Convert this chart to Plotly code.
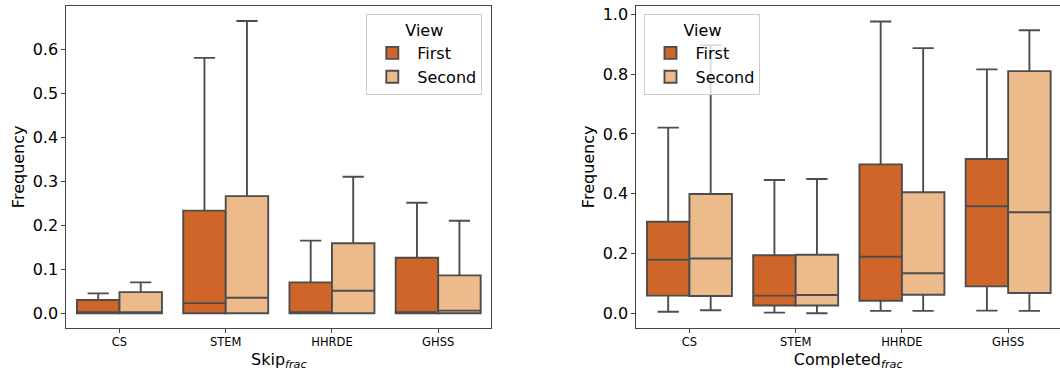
import plotly.graph_objects as go

# Categories and views
categories = ["CS", "STEM", "HHRDE", "GHSS"]
views = ["First", "Second"]

# Skip fraction: box statistics per view
skip_first_low = [0.0, 0.0, 0.0, 0.0]
skip_first_q1 = [0.0, 0.0, 0.0, 0.0]
skip_first_med = [0.0, 0.023, 0.0, 0.0]
skip_first_q3 = [0.030, 0.233, 0.070, 0.126]
skip_first_high = [0.045, 0.580, 0.165, 0.251]

skip_second_low = [0.0, 0.0, 0.0, 0.0]
skip_second_q1 = [0.0, 0.0, 0.0, 0.0]
skip_second_med = [0.0, 0.035, 0.051, 0.006]
skip_second_q3 = [0.048, 0.266, 0.159, 0.086]
skip_second_high = [0.070, 0.664, 0.310, 0.210]

# Completed fraction: box statistics per view
comp_first_low = [0.005, 0.002, 0.008, 0.009]
comp_first_q1 = [0.059, 0.026, 0.042, 0.090]
comp_first_med = [0.179, 0.059, 0.189, 0.358]
comp_first_q3 = [0.306, 0.194, 0.498, 0.516]
comp_first_high = [0.621, 0.446, 0.976, 0.816]

comp_second_low = [0.010, 0.0, 0.008, 0.008]
comp_second_q1 = [0.058, 0.026, 0.062, 0.068]
comp_second_med = [0.183, 0.061, 0.134, 0.338]
comp_second_q3 = [0.399, 0.196, 0.405, 0.810]
comp_second_high = [0.897, 0.449, 0.887, 0.947]

colors = {"First": "#cf6529", "Second": "#edba8b"}
edge = "#4d4d4d"
font_family = "DejaVu Sans"

fig = go.Figure()

panels = [
    ("x", "y", "legend", {
        "First": (skip_first_low, skip_first_q1, skip_first_med, skip_first_q3, skip_first_high),
        "Second": (skip_second_low, skip_second_q1, skip_second_med, skip_second_q3, skip_second_high),
    }),
    ("x2", "y2", "legend2", {
        "First": (comp_first_low, comp_first_q1, comp_first_med, comp_first_q3, comp_first_high),
        "Second": (comp_second_low, comp_second_q1, comp_second_med, comp_second_q3, comp_second_high),
    }),
]

for xa, ya, leg, stats in panels:
    for view in views:
        low, q1, med, q3, high = stats[view]
        fig.add_trace(go.Box(
            x=categories,
            lowerfence=low, q1=q1, median=med, q3=q3, upperfence=high,
            name=view,
            xaxis=xa, yaxis=ya,
            legend=leg,
            offsetgroup=view,
            fillcolor=colors[view],
            line=dict(color=edge, width=1.9),
            whiskerwidth=0.5,
            boxpoints=False,
        ))

axis_common = dict(
    showline=True, linecolor="#444444", linewidth=1, mirror=True,
    ticks="outside", ticklen=4, tickcolor="#444444",
    showgrid=False, zeroline=False, automargin=False,
)

legend_common = dict(
    title=dict(text="View", side="top center", font=dict(size=16)),
    font=dict(size=16),
    bgcolor="rgba(255,255,255,0.8)", bordercolor="#cccccc", borderwidth=1,
    tracegroupgap=0, itemwidth=40,
)

fig.update_layout(
    width=1060, height=374,
    margin=dict(l=0, r=0, t=0, b=0),
    paper_bgcolor="white", plot_bgcolor="white",
    font=dict(family=font_family, color="#000000"),
    boxmode="group", boxgap=0.2, boxgroupgap=0,
    xaxis=dict(
        domain=[0.0626, 0.4635], range=[-0.5, 3.5],
        categoryorder="array", categoryarray=categories,
        tickfont=dict(size=11.5), anchor="y",
        title=dict(text="Skip<sub><i>frac</i></sub>", font=dict(size=16), standoff=5),
        **axis_common,
    ),
    yaxis=dict(
        domain=[0.124, 0.984], range=[-0.0327, 0.698],
        tickvals=[0, 0.1, 0.2, 0.3, 0.4, 0.5, 0.6], tickformat=".1f",
        tickfont=dict(size=16), anchor="x",
        title=dict(text="Frequency", font=dict(size=16), standoff=4),
        **axis_common,
    ),
    xaxis2=dict(
        domain=[0.6003, 1.0], range=[-0.5, 3.488],
        categoryorder="array", categoryarray=categories,
        tickfont=dict(size=11.5), anchor="y2",
        title=dict(text="Completed<sub><i>frac</i></sub>", font=dict(size=16), standoff=5),
        **axis_common,
    ),
    yaxis2=dict(
        domain=[0.124, 0.984], range=[-0.048, 1.028],
        tickvals=[0, 0.2, 0.4, 0.6, 0.8, 1.0], tickformat=".1f",
        tickfont=dict(size=16), anchor="x2",
        title=dict(text="Frequency", font=dict(size=16), standoff=4),
        **axis_common,
    ),
    legend=dict(x=0.455, y=0.962, xanchor="right", yanchor="top", **legend_common),
    legend2=dict(x=0.608, y=0.962, xanchor="left", yanchor="top", **legend_common),
)

fig.write_html("out.html")
